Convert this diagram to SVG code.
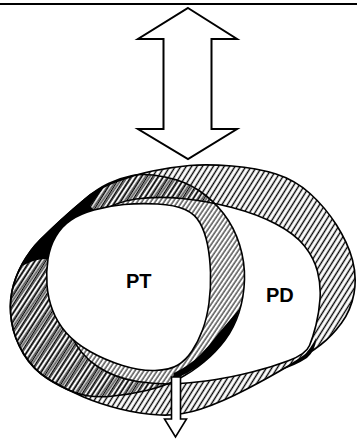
<svg xmlns="http://www.w3.org/2000/svg" width="357" height="442" viewBox="0 0 357 442">
<style>
.ol{fill:none;stroke:#000;stroke-width:1.6;stroke-linejoin:round}
.ar{fill:#fff;stroke:#000;stroke-width:2;stroke-linejoin:miter}
.lbl{font-family:"Liberation Sans",Arial,sans-serif;font-weight:bold;font-size:20px;fill:#000}
.blk{fill:#000;stroke:none}
</style>
<defs>
<pattern id="hPD" width="4.6" height="10" patternUnits="userSpaceOnUse" patternTransform="rotate(32)">
<line x1="2.3" y1="0" x2="2.3" y2="10" stroke="#000" stroke-width="1.4"/>
</pattern>
<pattern id="hPT" width="3.7" height="10" patternUnits="userSpaceOnUse" patternTransform="rotate(34)">
<line x1="1" y1="0" x2="1" y2="10" stroke="#000" stroke-width="1"/>
</pattern>
</defs>
<rect width="357" height="442" fill="#fff"/>
<line id="top-rule" x1="0" y1="4" x2="357" y2="4" stroke="#000" stroke-width="2.2"/>

<g id="pd-ring">
<path d="M 232,166 Q 257,168 276,174 Q 295,180 310,193.5 Q 325,207 336.5,225 Q 348,243 352.5,260 Q 357,277 354,293.5 Q 351,310 341.5,323 Q 332,336 321,344.5 Q 310,353 290,365 Q 270,377 246,389.5 Q 222,402 201,409 Q 180,416 160,415 Q 140,414 120,409 Q 100,404 83.5,397 Q 67,390 50,380 Q 33,370 23.5,354 Q 14,338 11.5,321.5 Q 9,305 12,291 Q 15,277 22.5,263.5 Q 30,250 40,240 Q 50,230 61.5,219.5 Q 73,209 85,199 Q 97,189 115,182 Q 133,175 152.5,171 Q 172,167 189.5,165.5 Q 207,164 232,166 Z M 182,198.5 Q 207,201 232,207.5 Q 257,214 276,224 Q 295,234 304.5,246 Q 314,258 317.5,271.5 Q 321,285 320,299 Q 319,313 316,325 Q 313,337 309.5,345.5 Q 306,354 289,360.5 Q 272,367 252,372 Q 232,377 216,379.5 Q 200,382 180,383.5 Q 160,385 137.5,381.5 Q 115,378 97.5,366.5 Q 80,355 71,335 Q 62,315 62,290 Q 62,265 71,245 Q 80,225 97.5,213.5 Q 115,202 136,199 Q 157,196 182,198.5 Z" fill="#fff" fill-rule="evenodd"/>
<path d="M 232,166 Q 257,168 276,174 Q 295,180 310,193.5 Q 325,207 336.5,225 Q 348,243 352.5,260 Q 357,277 354,293.5 Q 351,310 341.5,323 Q 332,336 321,344.5 Q 310,353 290,365 Q 270,377 246,389.5 Q 222,402 201,409 Q 180,416 160,415 Q 140,414 120,409 Q 100,404 83.5,397 Q 67,390 50,380 Q 33,370 23.5,354 Q 14,338 11.5,321.5 Q 9,305 12,291 Q 15,277 22.5,263.5 Q 30,250 40,240 Q 50,230 61.5,219.5 Q 73,209 85,199 Q 97,189 115,182 Q 133,175 152.5,171 Q 172,167 189.5,165.5 Q 207,164 232,166 Z M 182,198.5 Q 207,201 232,207.5 Q 257,214 276,224 Q 295,234 304.5,246 Q 314,258 317.5,271.5 Q 321,285 320,299 Q 319,313 316,325 Q 313,337 309.5,345.5 Q 306,354 289,360.5 Q 272,367 252,372 Q 232,377 216,379.5 Q 200,382 180,383.5 Q 160,385 137.5,381.5 Q 115,378 97.5,366.5 Q 80,355 71,335 Q 62,315 62,290 Q 62,265 71,245 Q 80,225 97.5,213.5 Q 115,202 136,199 Q 157,196 182,198.5 Z" fill-rule="evenodd" class="ol" style="fill:url(#hPD)"/>
<path class="blk" d="M 278,371 Q 292,364 302,357 Q 311,349 316,338 Q 316,350 307,358 Q 295,366 278,371 Z"/>
</g>

<g id="pt-ring">
<path d="M 165,177 Q 185,181 199,190.5 Q 213,200 223.5,213.5 Q 234,227 239.5,244.5 Q 245,262 244.5,279.5 Q 244,297 239,312.5 Q 234,328 225,340 Q 216,352 204,362 Q 192,372 178.5,379 Q 165,386 146.5,390.5 Q 128,395 109,396.5 Q 90,398 75,392.5 Q 60,387 46.5,378 Q 33,369 23.5,353.5 Q 14,338 11.5,321.5 Q 9,305 12,291 Q 15,277 22.5,263.5 Q 30,250 40,240 Q 50,230 61.5,219.5 Q 73,209 85,199 Q 97,189 108.5,183.5 Q 120,178 132.5,175.5 Q 145,173 165,177 Z" class="ol" style="fill:url(#hPT)"/>
<path class="blk" d="M 22,266 Q 30,250 40,240 Q 50,230 61.5,219.5 Q 73,209 85,199 Q 95,191 106,185 Q 97,195 90,206 L 94,210 Q 80,214 71,220 Q 62,226 56,236 Q 50,246 48,259 Q 36,258 22,266 Z"/>
<path class="blk" d="M 240,308 Q 234,328 225,340 Q 216,352 204,362 Q 192,372 172,380 L 174,373 Q 190,365 199,356 Q 210,345 218,334 Q 229,321 240,308 Z"/>
<path d="M 157.5,204 Q 175,205 185,209.5 Q 195,214 200,223 Q 205,232 207.5,244.5 Q 210,257 210.5,272.5 Q 211,288 209,303 Q 207,318 202.5,330 Q 198,342 192,351 Q 186,360 178,365 Q 170,370 155,370.5 Q 140,371 122.5,365.5 Q 105,360 90,351.5 Q 75,343 66,332.5 Q 57,322 52.5,310 Q 48,298 47,285 Q 46,272 48,259 Q 50,246 56,236 Q 62,226 71,220 Q 80,214 94,210 Q 108,206 124,204.5 Q 140,203 157.5,204 Z" fill="#fff" stroke="#000" stroke-width="1.6"/>
</g>

<g id="pt-label"><text class="lbl" x="126" y="288">PT</text></g>
<g id="pd-label"><text class="lbl" x="266" y="302">PD</text></g>

<g id="connectors">
<polygon id="double-arrow" class="ar" points="188,8 237,39 211.5,39 211.5,129 237,129 188,159 138,129 163.5,129 163.5,39 138,39"/>
<polygon id="small-arrow" class="ar" style="stroke-width:1.6" points="171.5,377 180.5,377 180.5,419 186.5,419 175.5,437 164.5,419 171.5,419"/>
</g>
</svg>
